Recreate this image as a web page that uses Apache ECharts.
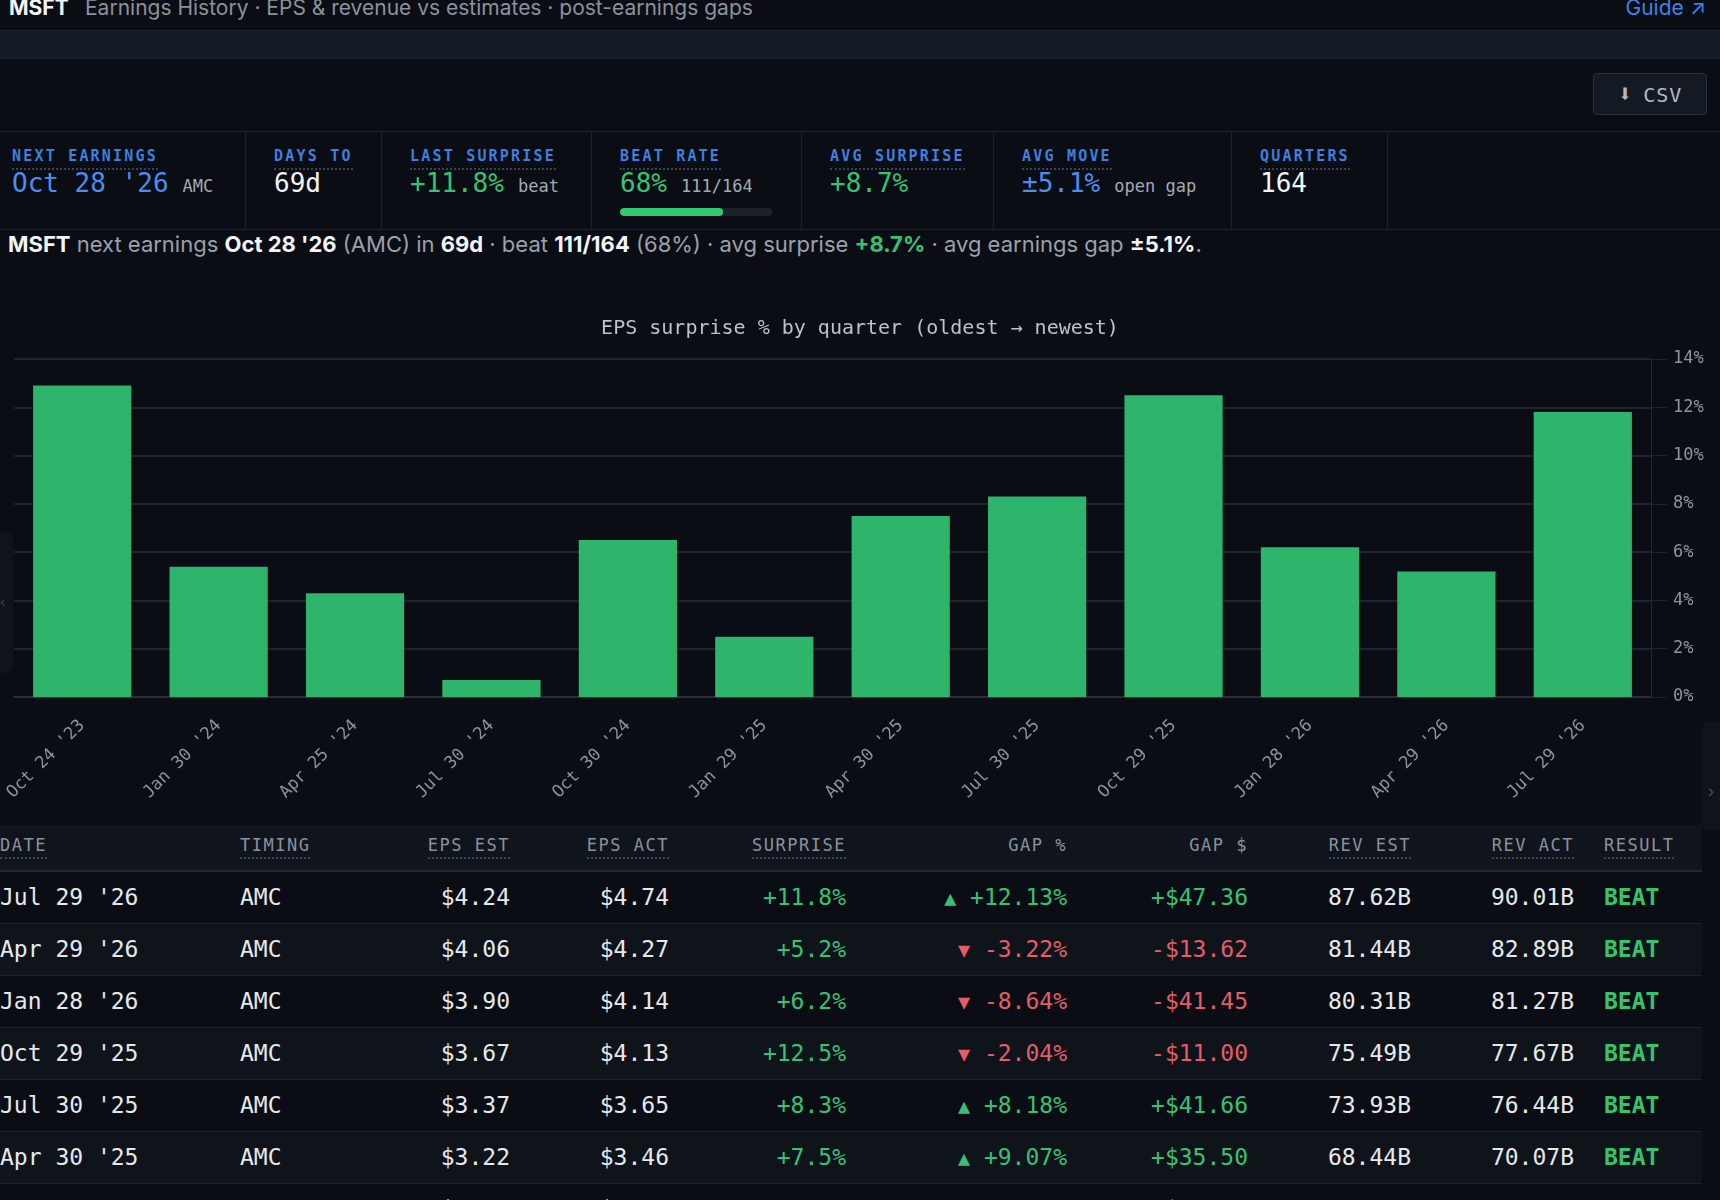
<!DOCTYPE html>
<html>
<head>
<meta charset="utf-8">
<script src="https://cdn.jsdelivr.net/npm/echarts@6/dist/echarts.min.js"></script>
<style>
  html, body { margin: 0; padding: 0; }
  body { width: 1720px; height: 1200px; overflow: hidden; background: #0a0e14; position: relative; font-family: Inter, "Noto Sans", sans-serif; color: #e6e8eb; }
  .mono { font-family: "DejaVu Sans Mono", "Liberation Mono", monospace; }
  #top { position: absolute; left: 0; top: -7px; width: 1720px; height: 30px; line-height: 30px; font-size: 21px; white-space: nowrap; }
  #top .tk { position: absolute; left: 9px; font-weight: 700; color: #f2f4f7; }
  #top .ttl { position: absolute; left: 85px; color: #8b929c; }
  #top .guide { position: absolute; right: 14px; color: #3f82e6; }
  #band { position: absolute; left: 0; top: 30px; width: 1720px; height: 27px; background: #131a24; border-top: 1px solid #1b2230; border-bottom: 1px solid #1b2230; }
  #csv { position: absolute; left: 1593px; top: 73px; width: 112px; height: 40px; background: #141a23; border: 1px solid #2a313c; border-radius: 4px; color: #b4bac2; font-size: 20px; line-height: 40px; text-align: center; letter-spacing: 1px; }
  #csv .arr { font-size: 24px; font-weight: 700; margin-right: 10px; }
  #stats { position: absolute; left: 0; top: 131px; width: 1720px; height: 97px; border-top: 1px solid #1c222b; border-bottom: 1px solid #1c222b; }
  .cell { position: absolute; top: 0; height: 97px; border-right: 1px solid #1c222b; }
  .lab { position: absolute; top: 15px; font-size: 15px; font-weight: 600; letter-spacing: 2.2px; color: #3f7fe0; padding-bottom: 3px; border-bottom: 2px dotted #3b4350; white-space: nowrap; }
  .val { position: absolute; top: 36px; font-size: 26px; white-space: nowrap; }
  .val small { font-size: 17px; color: #a4aab3; margin-left: 14px; }
  .blue { color: #4a8ef0; }
  .green { color: #36c274; }
  .white { color: #f2f4f7; }
  .red { color: #e45d67; }
  #beatbar { position: absolute; left: 29px; top: 76px; width: 152px; height: 8px; border-radius: 4px; background: #1b222c; overflow: hidden; }
  #beatbar div { height: 8px; border-radius: 4px; background: #2fcb70; }
  #summary { position: absolute; left: 8px; top: 229px; font-size: 22px; line-height: 30px; color: #9aa1ab; white-space: nowrap; }
  #summary b { color: #f2f4f7; font-weight: 700; }
  #summary .g { color: #36c274; font-weight: 700; }
  #chart { position: absolute; left: 0; top: 290px; width: 1720px; height: 530px; }
  #lpanel { position: absolute; left: 0; top: 531px; width: 13px; height: 142px; background: #0f141b; border-radius: 0 8px 8px 0; color: #3a414b; font-size: 14px; line-height: 142px; }
  #rpanel { position: absolute; left: 1702px; top: 721px; width: 18px; height: 110px; background: #0f141b; border-radius: 8px 0 0 8px; color: #4a515b; font-size: 16px; padding-top: 60px; box-sizing: border-box; text-align: center; }
  #table { position: absolute; left: 0; top: 825px; width: 1702px; }
  #thead { position: relative; height: 45px; background: #10151d; border-bottom: 2px solid #222933; }
  .th { position: absolute; top: 10px; font-size: 17px; letter-spacing: 1.5px; color: #8a929c; white-space: nowrap; padding-bottom: 2px; }
  .th.u { border-bottom: 2px dotted #3b4350; }
  .tr { position: relative; height: 51px; border-bottom: 1px solid #1d232c; }
  .tr.alt { background: #0f141b; }
  .td { position: absolute; top: 0; line-height: 51px; font-size: 23px; white-space: nowrap; color: #e6e8eb; }
  .td.res { font-weight: 700; color: #34c46e; }
</style>
</head>
<body>
<div id="top"><span class="tk">MSFT</span><span class="ttl">Earnings History · EPS &amp; revenue vs estimates · post-earnings gaps</span><span class="guide">Guide ↗</span></div>
<div id="band"></div>
<div id="csv" class="mono"><span class="arr">⬇</span>CSV</div>

<div id="stats" class="mono">
  <div class="cell" style="left:0;width:245px;">
    <div class="lab" style="left:12px;">NEXT EARNINGS</div>
    <div class="val blue" style="left:12px;">Oct 28 '26<small>AMC</small></div>
  </div>
  <div class="cell" style="left:245px;width:136px;">
    <div class="lab" style="left:29px;">DAYS TO</div>
    <div class="val white" style="left:29px;">69d</div>
  </div>
  <div class="cell" style="left:381px;width:210px;">
    <div class="lab" style="left:29px;">LAST SURPRISE</div>
    <div class="val green" style="left:29px;">+11.8%<small>beat</small></div>
  </div>
  <div class="cell" style="left:591px;width:210px;">
    <div class="lab" style="left:29px;">BEAT RATE</div>
    <div class="val green" style="left:29px;">68%<small>111/164</small></div>
    <div id="beatbar"><div style="width:68%;"></div></div>
  </div>
  <div class="cell" style="left:801px;width:192px;">
    <div class="lab" style="left:29px;">AVG SURPRISE</div>
    <div class="val green" style="left:29px;">+8.7%</div>
  </div>
  <div class="cell" style="left:993px;width:238px;">
    <div class="lab" style="left:29px;">AVG MOVE</div>
    <div class="val blue" style="left:29px;">±5.1%<small>open gap</small></div>
  </div>
  <div class="cell" style="left:1231px;width:156px;">
    <div class="lab" style="left:29px;">QUARTERS</div>
    <div class="val white" style="left:29px;">164</div>
  </div>
</div>

<div id="summary"><b>MSFT</b> next earnings <b>Oct 28 '26</b> (AMC) in <b>69d</b> · beat <b>111/164</b> (68%) · avg surprise <span class="g">+8.7%</span> · avg earnings gap <b>±5.1%</b>.</div>

<div id="chart"></div>
<div id="lpanel">‹</div>
<div id="rpanel">›</div>

<div id="table" class="mono">
  <div id="thead"></div>
  <div id="tbody"></div>
</div>

<script>
// quarters, oldest -> newest
var quarters = ["Oct 24 '23", "Jan 30 '24", "Apr 25 '24", "Jul 30 '24", "Oct 30 '24", "Jan 29 '25",
  "Apr 30 '25", "Jul 30 '25", "Oct 29 '25", "Jan 28 '26", "Apr 29 '26", "Jul 29 '26"];
var surprisePct = [12.9, 5.4, 4.3, 0.7, 6.5, 2.5, 7.5, 8.3, 12.5, 6.2, 5.2, 11.8];

// table rows, newest first
var rowDates = ["Jul 29 '26", "Apr 29 '26", "Jan 28 '26", "Oct 29 '25", "Jul 30 '25", "Apr 30 '25", "Jan 29 '25"];
var rowTiming = ["AMC", "AMC", "AMC", "AMC", "AMC", "AMC", "AMC"];
var epsEst = [4.24, 4.06, 3.90, 3.67, 3.37, 3.22, 3.15];
var epsAct = [4.74, 4.27, 4.14, 4.13, 3.65, 3.46, 3.23];
var rowSurprise = [11.8, 5.2, 6.2, 12.5, 8.3, 7.5, 2.5];
var gapPct = [12.13, -3.22, -8.64, -2.04, 8.18, 9.07, -5.77];
var gapUsd = [47.36, -13.62, -41.45, -11.00, 41.66, 35.50, -23.83];
var revEst = [87.62, 81.44, 80.31, 75.49, 73.93, 68.44, 69.83];
var revAct = [90.01, 82.89, 81.27, 77.67, 76.44, 70.07, 69.63];
var rowResult = ["BEAT", "BEAT", "BEAT", "BEAT", "BEAT", "BEAT", "BEAT"];

var headers = ["DATE", "TIMING", "EPS EST", "EPS ACT", "SURPRISE", "GAP %", "GAP $", "REV EST", "REV ACT", "RESULT"];

// column placement
var cols = [
  { left: 0, u: true },
  { left: 240, u: true },
  { right: 510, u: true },
  { right: 669, u: true },
  { right: 846, u: true },
  { right: 1067, u: false },
  { right: 1248, u: false },
  { right: 1411, u: true },
  { right: 1574, u: true },
  { left: 1604, u: true }
];

function posStyle(c) {
  if (c.left !== undefined) return "left:" + c.left + "px;";
  return "right:" + (1702 - c.right) + "px;";
}
function sgn(v) { return v >= 0 ? "+" : "-"; }

var th = "";
headers.forEach(function (h, i) {
  th += '<div class="th' + (cols[i].u ? " u" : "") + '" style="' + posStyle(cols[i]) + '">' + h + "</div>";
});
document.getElementById("thead").innerHTML = th;

var body = "";
for (var r = 0; r < rowDates.length; r++) {
  var gc = gapPct[r] >= 0 ? "green" : "red";
  var cells = [
    rowDates[r],
    rowTiming[r],
    "$" + epsEst[r].toFixed(2),
    "$" + epsAct[r].toFixed(2),
    '<span class="' + (rowSurprise[r] >= 0 ? "green" : "red") + '">' + sgn(rowSurprise[r]) + Math.abs(rowSurprise[r]).toFixed(1) + "%</span>",
    '<span class="' + gc + '"><span style="font-size:20px;">' + (gapPct[r] >= 0 ? "▲" : "▼") + "</span> " + sgn(gapPct[r]) + Math.abs(gapPct[r]).toFixed(2) + "%</span>",
    '<span class="' + gc + '">' + sgn(gapUsd[r]) + "$" + Math.abs(gapUsd[r]).toFixed(2) + "</span>",
    revEst[r].toFixed(2) + "B",
    revAct[r].toFixed(2) + "B",
    rowResult[r]
  ];
  var row = '<div class="tr' + (r % 2 === 1 ? " alt" : "") + '">';
  cells.forEach(function (c, i) {
    row += '<div class="td' + (i === 9 ? " res" : "") + '" style="' + posStyle(cols[i]) + '">' + c + "</div>";
  });
  body += row + "</div>";
}
document.getElementById("tbody").innerHTML = body;

var mono = "DejaVu Sans Mono";
var myChart = echarts.init(document.getElementById("chart"));
var option = {
  backgroundColor: "transparent",
  animation: false,
  title: {
    text: "EPS surprise % by quarter (oldest → newest)",
    left: "center",
    top: 24,
    textStyle: { fontFamily: mono, fontSize: 20, fontWeight: "normal", color: "#bcc2ca" }
  },
  grid: { left: 14, right: 69, top: 69, bottom: 123 },
  xAxis: {
    type: "category",
    data: quarters,
    axisLine: { show: true, lineStyle: { color: "#2a2f37", width: 2 } },
    axisTick: { show: false },
    axisLabel: { rotate: 45, margin: 26, fontFamily: mono, fontSize: 17, color: "#8d949e" }
  },
  yAxis: {
    type: "value",
    position: "right",
    min: 0,
    max: 14,
    interval: 2,
    axisLine: { show: true, lineStyle: { color: "#252a32", width: 1 } },
    axisTick: { show: true, length: 16, lineStyle: { color: "#1f242c" } },
    splitLine: { show: true, lineStyle: { color: "#1f242c", width: 2 } },
    axisLabel: { formatter: "{value}%", margin: 22, fontFamily: mono, fontSize: 17, color: "#8d949e" }
  },
  series: [{
    type: "bar",
    data: surprisePct,
    barWidth: "72%",
    itemStyle: { color: "#2fb46b" }
  }]
};
myChart.setOption(option);
</script>
</body>
</html>
